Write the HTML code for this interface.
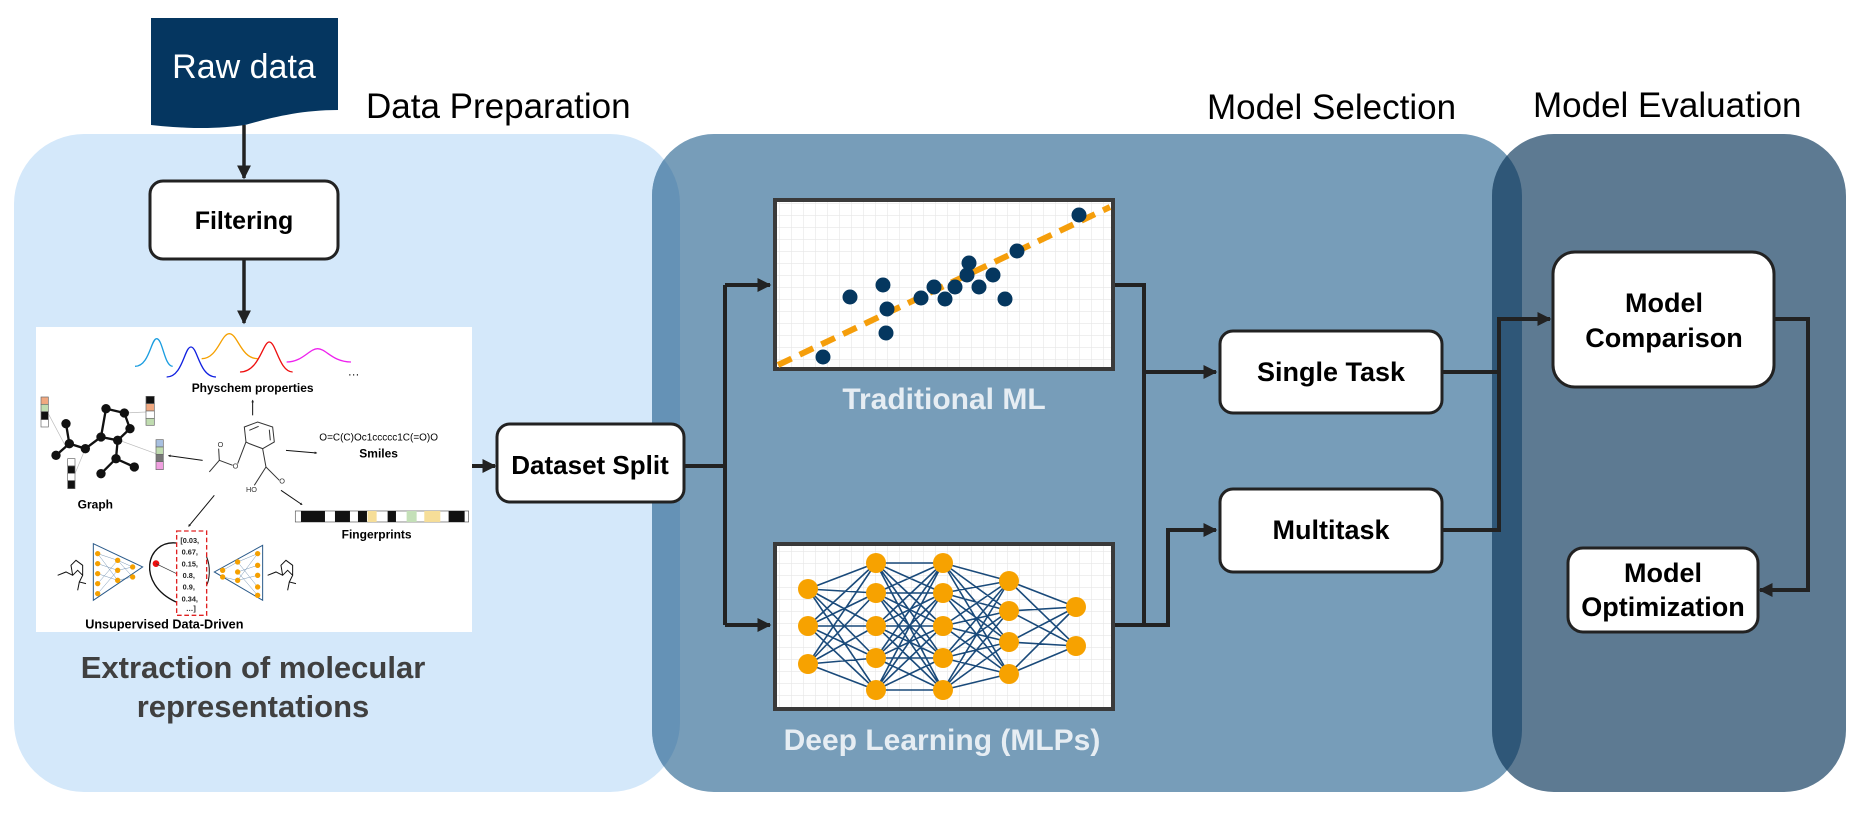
<!DOCTYPE html>
<html><head><meta charset="utf-8"><style>
html,body{margin:0;padding:0;background:#fff;}
svg{display:block;}
text{font-family:"Liberation Sans",sans-serif;}
</style></head><body>
<svg width="1860" height="813" viewBox="0 0 1860 813" xmlns="http://www.w3.org/2000/svg">
<defs>
<pattern id="grid" width="12" height="12" patternUnits="userSpaceOnUse">
<rect width="12" height="12" fill="#fff"/>
<path d="M12 0V12M0 12H12" stroke="#e6e6e6" stroke-width="1.2"/>
</pattern>
<marker id="ah" markerWidth="8" markerHeight="8" refX="6" refY="4" orient="auto" markerUnits="userSpaceOnUse">
<path d="M0 0L8 4L0 8Z" fill="#222"/>
</marker>
<marker id="ab" viewBox="0 0 10 10" markerWidth="14" markerHeight="14" refX="9" refY="5" orient="auto" markerUnits="userSpaceOnUse">
<path d="M0 0L10 5L0 10Z" fill="#222"/>
</marker>
<clipPath id="cLight"><rect x="14" y="134" width="666" height="658" rx="70"/></clipPath>
<clipPath id="cMid"><rect x="652" y="134" width="870" height="658" rx="62"/></clipPath>
</defs>

<!-- panels -->
<rect x="14" y="134" width="666" height="658" rx="70" fill="#d4e8fa"/>
<rect x="652" y="134" width="870" height="658" rx="62" fill="#779db9"/>
<rect x="652" y="134" width="870" height="658" rx="62" fill="#6592b6" clip-path="url(#cLight)"/>
<rect x="1492" y="134" width="354" height="658" rx="62" fill="#5d7a92"/>
<rect x="1492" y="134" width="354" height="658" rx="62" fill="#2f5778" clip-path="url(#cMid)"/>

<!-- titles -->
<text x="366" y="118" font-size="35" fill="#000">Data Preparation</text>
<text x="1207" y="119" font-size="35" fill="#000">Model Selection</text>
<text x="1533" y="117" font-size="35" fill="#000">Model Evaluation</text>

<!-- Raw data -->
<path d="M151 18 H338 V110 C300 110 270 118 245 125 C210 130 180 128 151 125 Z" fill="#053660"/>
<text x="244" y="78" font-size="34" fill="#fff" text-anchor="middle">Raw data</text>

<line x1="244" y1="125" x2="244" y2="178" stroke="#222" stroke-width="3.5" marker-end="url(#ab)"/>
<rect x="150" y="181" width="188" height="78" rx="13" fill="#fff" stroke="#222" stroke-width="3"/>
<text x="244" y="229" font-size="25" font-weight="bold" text-anchor="middle">Filtering</text>
<line x1="244" y1="259" x2="244" y2="323" stroke="#222" stroke-width="3.5" marker-end="url(#ab)"/>

<!-- molecule image panel -->
<rect x="36" y="327" width="436" height="305" fill="#fff"/>
<g transform="translate(36,327) scale(0.3333)">
 <g fill="none" stroke-width="4">
  <path d="M297 118 C340 118 345 35 362 35 C380 35 385 118 410 118" stroke="#1a9de0"/>
  <path d="M392 150 C440 150 445 60 465 60 C485 60 490 150 540 150" stroke="#1020e0"/>
  <path d="M497 95 C545 95 555 20 580 20 C605 20 615 95 665 95" stroke="#f5a000"/>
  <path d="M612 135 C670 135 680 45 700 45 C720 45 730 135 770 135" stroke="#ee1010"/>
  <path d="M752 105 C800 105 820 65 845 65 C870 65 890 105 945 105" stroke="#ee22ee"/>
 </g>
 <text x="935" y="145" font-size="36">…</text>
 <text x="650" y="195" font-size="36" font-weight="bold" text-anchor="middle">Physchem properties</text>
 <g stroke="#111" stroke-width="3" marker-end="url(#ah)">
  <line x1="650" y1="265" x2="650" y2="220"/>
  <line x1="500" y1="400" x2="398" y2="386"/>
  <line x1="750" y1="370" x2="842" y2="378"/>
  <line x1="735" y1="490" x2="798" y2="533"/>
  <line x1="535" y1="505" x2="458" y2="598"/>
 </g>
 <g stroke="#bbb" stroke-width="2"><line x1="37" y1="260" x2="90" y2="360"/><line x1="117" y1="440" x2="148" y2="365"/><line x1="265" y1="258" x2="330" y2="255"/><line x1="250" y1="340" x2="360" y2="380"/></g>
 <g stroke="#111" stroke-width="7" fill="none">
  <path d="M90 290 L100 350 L60 385 M100 350 L148 365 L195 330 L210 245 L265 258 L282 305 L245 340 L195 330 M245 340 L240 395 L195 440 M240 395 L295 420"/>
 </g>
 <g fill="#111">
  <circle cx="90" cy="290" r="14"/><circle cx="100" cy="350" r="14"/><circle cx="60" cy="385" r="14"/><circle cx="148" cy="365" r="14"/><circle cx="195" cy="330" r="14"/><circle cx="210" cy="245" r="14"/><circle cx="265" cy="258" r="14"/><circle cx="282" cy="305" r="14"/><circle cx="245" cy="340" r="14"/><circle cx="240" cy="395" r="14"/><circle cx="195" cy="440" r="14"/><circle cx="295" cy="420" r="14"/>
 </g>
 <g stroke="#666" stroke-width="2">
  <rect x="15" y="210" width="22" height="22" fill="#f0a880"/><rect x="15" y="232" width="22" height="22" fill="#c0dcb0"/><rect x="15" y="254" width="22" height="24" fill="#111"/><rect x="15" y="278" width="22" height="22" fill="#fff"/>
  <rect x="95" y="395" width="22" height="22" fill="#fff"/><rect x="95" y="417" width="22" height="22" fill="#111"/><rect x="95" y="439" width="22" height="22" fill="#fff"/><rect x="95" y="461" width="22" height="24" fill="#111"/>
  <rect x="330" y="208" width="25" height="22" fill="#111"/><rect x="330" y="230" width="25" height="22" fill="#f0a880"/><rect x="330" y="252" width="25" height="22" fill="#fff"/><rect x="330" y="274" width="25" height="21" fill="#c0dcb0"/>
  <rect x="360" y="338" width="22" height="22" fill="#a8c0e0"/><rect x="360" y="360" width="22" height="22" fill="#c0dcb0"/><rect x="360" y="382" width="22" height="22" fill="#777"/><rect x="360" y="404" width="22" height="24" fill="#f0a0e0"/>
 </g>
 <text x="178" y="545" font-size="36" font-weight="bold" text-anchor="middle">Graph</text>
 <g stroke="#333" stroke-width="3" fill="none">
  <path d="M630 345 L625 300 L665 285 L710 300 L715 345 L680 365 L640 350 Z"/>
  <path d="M640 310 L668 298 M700 308 L703 340"/>
  <path d="M630 345 L605 410 M590 415 L550 400 L520 435 M550 400 L548 365"/>
  <path d="M680 365 L690 420 L730 460 M690 420 L655 475"/>
 </g>
 <text x="590" y="425" font-size="22" fill="#333">O</text>
 <text x="630" y="495" font-size="22" fill="#333">HO</text>
 <text x="730" y="470" font-size="22" fill="#333">O</text>
 <text x="545" y="360" font-size="22" fill="#333">O</text>
 <text x="850" y="340" font-size="30">O=C(C)Oc1ccccc1C(=O)O</text>
 <text x="1028" y="392" font-size="36" font-weight="bold" text-anchor="middle">Smiles</text>
 <rect x="778" y="552" width="520" height="33" fill="#fff" stroke="#555" stroke-width="2"/>
 <g fill="#111"><rect x="795" y="552" width="72" height="33"/><rect x="897" y="552" width="45" height="33"/><rect x="966" y="552" width="27" height="33"/><rect x="1055" y="552" width="25" height="33"/><rect x="1238" y="552" width="48" height="33"/></g>
 <rect x="995" y="552" width="27" height="33" fill="#f6de98"/><rect x="1112" y="552" width="30" height="33" fill="#c4e0b8"/><rect x="1165" y="552" width="48" height="33" fill="#f6de98"/>
 <text x="1022" y="635" font-size="36" font-weight="bold" text-anchor="middle">Fingerprints</text>
 <path d="M172 650 L320 720 L172 820 Z" fill="none" stroke="#2a5a8a" stroke-width="3"/>
 <path d="M680 655 L535 735 L680 820 Z" fill="none" stroke="#2a5a8a" stroke-width="3"/>
 <g stroke="#2a5a8a" stroke-width="1.2" opacity="0.8">
  <path d="M185 680 L245 700 M185 710 L245 730 M185 740 L245 760 M185 770 L245 700 M185 680 L245 760 M185 800 L245 730 M245 700 L290 720 M245 760 L290 750 M245 730 L290 720 M245 700 L290 750"/>
  <path d="M665 680 L605 705 M665 715 L605 735 M665 745 L605 760 M665 780 L605 705 M665 680 L605 760 M665 805 L605 735 M605 705 L560 730 M605 760 L560 750"/>
 </g>
 <g fill="#f5a000">
  <circle cx="185" cy="680" r="8"/><circle cx="185" cy="710" r="8"/><circle cx="185" cy="740" r="8"/><circle cx="185" cy="770" r="8"/><circle cx="185" cy="800" r="8"/>
  <circle cx="245" cy="700" r="8"/><circle cx="245" cy="730" r="8"/><circle cx="245" cy="760" r="8"/><circle cx="290" cy="720" r="8"/><circle cx="290" cy="750" r="8"/>
  <circle cx="665" cy="680" r="8"/><circle cx="665" cy="715" r="8"/><circle cx="665" cy="745" r="8"/><circle cx="665" cy="780" r="8"/><circle cx="665" cy="805" r="8"/>
  <circle cx="605" cy="705" r="8"/><circle cx="605" cy="735" r="8"/><circle cx="605" cy="760" r="8"/><circle cx="560" cy="730" r="8"/><circle cx="560" cy="750" r="8"/>
 </g>
 <path d="M420 648 C330 640 300 770 420 825" fill="none" stroke="#111" stroke-width="4"/>
 <path d="M512 690 C525 720 520 760 512 775" fill="none" stroke="#111" stroke-width="3"/>
 <circle cx="360" cy="710" r="10" fill="#ee1010"/><line x1="360" y1="710" x2="422" y2="740" stroke="#333" stroke-width="2"/>
 <rect x="422" y="612" width="90" height="253" fill="none" stroke="#e02020" stroke-width="4" stroke-dasharray="14 8"/>
 <g font-size="22" font-weight="bold" fill="#222">
  <text x="433" y="648">[0.03,</text><text x="437" y="683">0.67,</text><text x="437" y="718">0.15,</text><text x="440" y="753">0.8,</text><text x="440" y="788">0.9,</text><text x="437" y="823">0.34,</text><text x="450" y="852">…]</text>
 </g>
 <g stroke="#111" stroke-width="3" fill="none">
  <path d="M65 745 L90 735 L110 745 L125 730 L140 745 L130 765 L150 770 M110 745 L105 715 L120 700 L140 715 L140 745 M130 765 L125 790"/>
  <path d="M695 745 L720 735 L740 745 L755 730 L770 745 L760 765 L780 770 M740 745 L735 715 L750 700 L770 715 L770 745 M760 765 L755 790"/>
 </g>
 <text x="385" y="905" font-size="38" font-weight="bold" text-anchor="middle">Unsupervised Data-Driven</text>
</g>

<text x="253" y="678" font-size="31" font-weight="bold" fill="#404040" text-anchor="middle">Extraction of molecular</text>
<text x="253" y="717" font-size="31" font-weight="bold" fill="#404040" text-anchor="middle">representations</text>

<line x1="472" y1="466" x2="495" y2="466" stroke="#222" stroke-width="4" marker-end="url(#ab)"/>
<rect x="497" y="424" width="187" height="78" rx="13" fill="#fff" stroke="#222" stroke-width="3"/>
<text x="590" y="474" font-size="26" font-weight="bold" text-anchor="middle">Dataset Split</text>

<g stroke="#222" stroke-width="4" fill="none">
 <path d="M684 466 H725"/>
 <path d="M725 285 V625"/>
 <path d="M725 285 H770" marker-end="url(#ab)"/>
 <path d="M725 625 H770" marker-end="url(#ab)"/>
</g>

<!-- traditional chart -->
<rect x="775" y="200" width="338" height="169" fill="url(#grid)" stroke="#3a3a3a" stroke-width="4"/>
<line x1="778" y1="365" x2="1110" y2="207" stroke="#f59e0b" stroke-width="6" stroke-dasharray="15 9"/>
<g fill="#05375f">
 <circle cx="823" cy="357" r="7.5"/><circle cx="850" cy="297" r="7.5"/><circle cx="883" cy="285" r="7.5"/><circle cx="887" cy="309" r="7.5"/><circle cx="886" cy="333" r="7.5"/><circle cx="921" cy="298" r="7.5"/><circle cx="934" cy="287" r="7.5"/><circle cx="945" cy="299" r="7.5"/><circle cx="955" cy="287" r="7.5"/><circle cx="967" cy="275" r="7.5"/><circle cx="969" cy="263" r="7.5"/><circle cx="979" cy="287" r="7.5"/><circle cx="993" cy="275" r="7.5"/><circle cx="1005" cy="299" r="7.5"/><circle cx="1017" cy="251" r="7.5"/><circle cx="1079" cy="215" r="7.5"/>
</g>
<text x="944" y="409" font-size="30" font-weight="bold" fill="#e6edf3" text-anchor="middle">Traditional ML</text>

<!-- DL chart -->
<rect x="775" y="544" width="338" height="165" fill="url(#grid)" stroke="#3a3a3a" stroke-width="4"/>
<g stroke="#1a4a7a" stroke-width="1.6">
<path d="M808 589L876 563M808 589L876 593M808 589L876 626M808 589L876 658M808 589L876 690M808 626L876 563M808 626L876 593M808 626L876 626M808 626L876 658M808 626L876 690M808 664L876 563M808 664L876 593M808 664L876 626M808 664L876 658M808 664L876 690
M876 563L943 563M876 563L943 593M876 563L943 626M876 563L943 658M876 563L943 690M876 593L943 563M876 593L943 593M876 593L943 626M876 593L943 658M876 593L943 690M876 626L943 563M876 626L943 593M876 626L943 626M876 626L943 658M876 626L943 690M876 658L943 563M876 658L943 593M876 658L943 626M876 658L943 658M876 658L943 690M876 690L943 563M876 690L943 593M876 690L943 626M876 690L943 658M876 690L943 690
M943 563L1009 581M943 563L1009 611M943 563L1009 642M943 563L1009 674M943 593L1009 581M943 593L1009 611M943 593L1009 642M943 593L1009 674M943 626L1009 581M943 626L1009 611M943 626L1009 642M943 626L1009 674M943 658L1009 581M943 658L1009 611M943 658L1009 642M943 658L1009 674M943 690L1009 581M943 690L1009 611M943 690L1009 642M943 690L1009 674
M1009 581L1076 607M1009 581L1076 646M1009 611L1076 607M1009 611L1076 646M1009 642L1076 607M1009 642L1076 646M1009 674L1076 607M1009 674L1076 646"/>
</g>
<g fill="#f7a200">
 <circle cx="808" cy="589" r="10"/><circle cx="808" cy="626" r="10"/><circle cx="808" cy="664" r="10"/>
 <circle cx="876" cy="563" r="10"/><circle cx="876" cy="593" r="10"/><circle cx="876" cy="626" r="10"/><circle cx="876" cy="658" r="10"/><circle cx="876" cy="690" r="10"/>
 <circle cx="943" cy="563" r="10"/><circle cx="943" cy="593" r="10"/><circle cx="943" cy="626" r="10"/><circle cx="943" cy="658" r="10"/><circle cx="943" cy="690" r="10"/>
 <circle cx="1009" cy="581" r="10"/><circle cx="1009" cy="611" r="10"/><circle cx="1009" cy="642" r="10"/><circle cx="1009" cy="674" r="10"/>
 <circle cx="1076" cy="607" r="10"/><circle cx="1076" cy="646" r="10"/>
</g>
<text x="942" y="750" font-size="30" font-weight="bold" fill="#e6edf3" text-anchor="middle">Deep Learning (MLPs)</text>

<!-- model connectors -->
<g stroke="#222" stroke-width="4" fill="none">
 <path d="M1115 285 H1144 V625 H1115"/>
 <path d="M1144 372 H1216" marker-end="url(#ab)"/>
 <path d="M1144 625 H1168 V530 H1216" marker-end="url(#ab)"/>
</g>
<rect x="1220" y="331" width="222" height="82" rx="13" fill="#fff" stroke="#222" stroke-width="3"/>
<text x="1331" y="381" font-size="27" font-weight="bold" text-anchor="middle">Single Task</text>
<rect x="1220" y="489" width="222" height="83" rx="13" fill="#fff" stroke="#222" stroke-width="3"/>
<text x="1331" y="539" font-size="27" font-weight="bold" text-anchor="middle">Multitask</text>

<g stroke="#222" stroke-width="4" fill="none">
 <path d="M1442 372 H1499"/>
 <path d="M1442 530 H1499 V319 H1550" marker-end="url(#ab)"/>
 <path d="M1774 319 H1808 V590 H1760" marker-end="url(#ab)"/>
</g>
<rect x="1553" y="252" width="221" height="135" rx="22" fill="#fff" stroke="#222" stroke-width="3"/>
<text x="1664" y="312" font-size="27" font-weight="bold" text-anchor="middle">Model</text>
<text x="1664" y="347" font-size="27" font-weight="bold" text-anchor="middle">Comparison</text>
<rect x="1568" y="548" width="190" height="84" rx="15" fill="#fff" stroke="#222" stroke-width="3"/>
<text x="1663" y="582" font-size="27" font-weight="bold" text-anchor="middle">Model</text>
<text x="1663" y="616" font-size="27" font-weight="bold" text-anchor="middle">Optimization</text>
</svg>
</body></html>
